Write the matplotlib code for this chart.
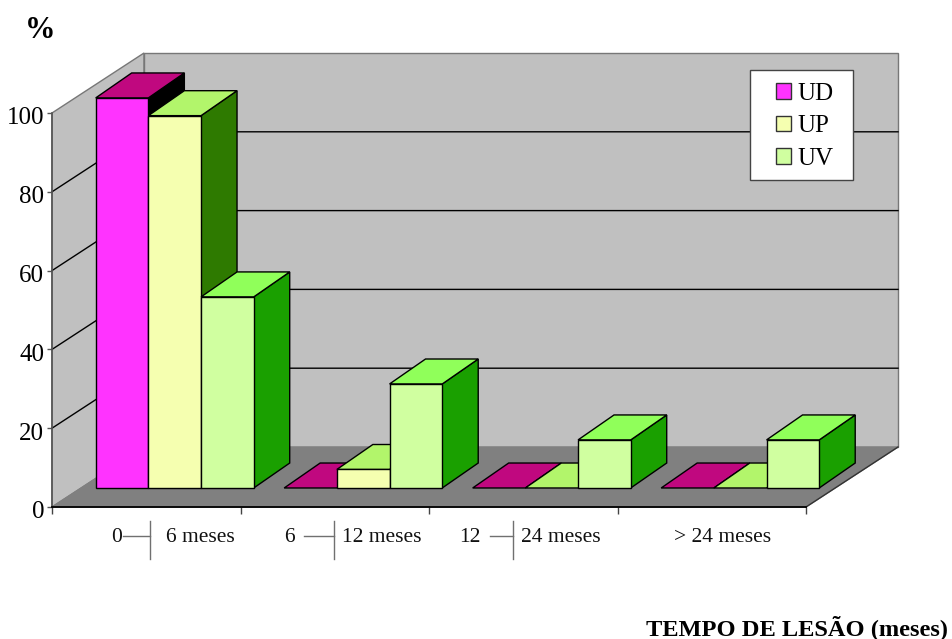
import matplotlib
matplotlib.use("Agg")
import matplotlib.pyplot as plt
from matplotlib.patches import Polygon, Patch, Rectangle
from matplotlib.lines import Line2D
from matplotlib.transforms import ScaledTranslation

plt.rcParams['font.family'] = ['Liberation Serif', 'DejaVu Serif']

# values
ud_values = [99, 0, 0, 0]
up_values = [94.5, 4.7, 0, 0]
uv_values = [48.5, 26.4, 12.2, 12.2]
series_names = ["UD", "UP", "UV"]
y_ticks = [0, 20, 40, 60, 80, 100]
range_start = ["0", "6", "12"]
range_end = ["6 meses", "12 meses", "24 meses", "> 24 meses"]

W, H = 953, 639

front_color = ["#ff33ff", "#f5ffb0", "#d0ffa0"]
top_color = ["#c0087f", "#b2f56b", "#90ff5a"]
side_color = ["#000000", "#2e7a00", "#1aa000"]

# front plane of the box, in pixels
left, right, bottom, top = 52, 806, 507, 113
depth_px = (92, 60)
bar_width = 0.2795
bar_depth = (0.317, 0.733)
px_x = 4 / (right - left)
bar_shift = -0.7 * px_x
back_shift = 2.3 * px_x  # bars recede a little steeper than the walls

fig = plt.figure(figsize=(W / 100, H / 100), dpi=100)
ax = fig.add_axes([left / W, 1 - bottom / H, (right - left) / W, (bottom - top) / H])
ax.set_xlim(0, 4)
ax.set_ylim(0, 100)
ax.patch.set_visible(False)


def project(x, y, d):
    # d = 0 is the front of the box, d = 1 the back wall
    return (x + d * depth_px[0] * px_x,
            y + d * depth_px[1] * 100 / (bottom - top))


def poly(points, face, edge, lw=1.0, z=1):
    ax.add_patch(Polygon([project(*p) for p in points], closed=True, facecolor=face,
                         edgecolor=edge, linewidth=lw, clip_on=False, zorder=z, joinstyle='miter'))


# walls and floor
poly([(0, 0, 0), (0, 0, 1), (0, 100, 1), (0, 100, 0)], "#c0c0c0", "#777777")
poly([(0, 0, 1), (4, 0, 1), (4, 100, 1), (0, 100, 1)], "#c0c0c0", "#777777")
poly([(0, 0, 0), (4, 0, 0), (4, 0, 1), (0, 0, 1)], "#808080", "#808080")

for v in y_ticks[1:-1]:
    xs, ys = zip(project(0, v, 0), project(0, v, 1), project(4, v, 1))
    ax.plot(xs, ys, color="black", lw=1.0, clip_on=False, zorder=2, solid_joinstyle='miter')
xs, ys = zip(project(4, 0, 0), project(4, 0, 1))
ax.plot(xs, ys, color="#333333", lw=1.0, clip_on=False, zorder=2)

# bars, painted left to right
d0, d1 = bar_depth
for c in range(4):
    for s, values in enumerate([ud_values, up_values, uv_values]):
        v = values[c]
        x0 = c + 0.5 - 1.5 * bar_width + s * bar_width + bar_shift
        x1 = x0 + bar_width
        bx0, bx1 = x0 - back_shift, x1 - back_shift
        z = 3 + c * 3 + s
        if v > 0:
            poly([(x1, 0, d0), (bx1, 0, d1), (bx1, v, d1), (x1, v, d0)], side_color[s], "black", z=z)
        poly([(x0, v, d0), (x1, v, d0), (bx1, v, d1), (bx0, v, d1)], top_color[s], "black", z=z)
        if v > 0:
            poly([(x0, 0, d0), (x1, 0, d0), (x1, v, d0), (x0, v, d0)], front_color[s], "black", z=z)

# axes
for name in ["top", "right"]:
    ax.spines[name].set_visible(False)
ax.spines["left"].set_color("#555555")
ax.spines["left"].set_linewidth(1.2)
ax.spines["bottom"].set_color("black")
ax.spines["bottom"].set_linewidth(1.3)
ax.set_yticks(y_ticks)
ax.set_xticks(range(5))
ax.set_xticklabels([])
ax.tick_params(axis="y", length=3.6, width=1.0, color="#555555", pad=2, labelsize=18)
ax.tick_params(axis="x", length=5, width=1.0, color="#444444")
for spine in ax.spines.values():
    spine.set_zorder(30)
# the numbers sit a bit below their ticks
for lab in ax.get_yticklabels():
    lab.set_transform(lab.get_transform() + ScaledTranslation(0, -3 / 100, fig.dpi_scale_trans))

# category labels, "start |-- end" built from text and two thin lines
label_size = 15.5
start_x = [117, 289, 470]
dash_x = [(123, 150), (304, 334), (490, 513)]
end_x = [200, 382, 561, 723]
label_y = 538
line_y = 536
for x, t in zip(start_x, range_start):
    fig.text(x / W, 1 - label_y / H, t, ha="center", va="center", fontsize=label_size, color="#111111")
for (x0, x1) in dash_x:
    fig.add_artist(Line2D([x0 / W, x1 / W], [1 - line_y / H] * 2, color="#707070", lw=1.0))
    fig.add_artist(Line2D([x1 / W] * 2, [1 - 521 / H, 1 - 559 / H], color="#707070", lw=1.0))
for x, t in zip(end_x, range_end):
    fig.text(x / W, 1 - label_y / H, t, ha="center", va="center", fontsize=label_size, color="#111111")

fig.text(40 / W, 1 - 30 / H, "%", ha="center", va="center", fontsize=22, fontweight="bold")
fig.text(948 / W, 1 - 628 / H, "TEMPO DE LESÃO (meses)", ha="right", va="center",
         fontsize=17.6, fontweight="bold")

# legend, box drawn apart because its side margins are wider than the top one
ax.add_patch(Rectangle((750 / W, 1 - 180 / H), 103 / W, 110 / H, transform=fig.transFigure,
                       facecolor="white", edgecolor="#444444", linewidth=1.0, clip_on=False, zorder=35))
handles = [Patch(facecolor=c, edgecolor="#333333", linewidth=1.0) for c in front_color]
leg = ax.legend(handles, series_names, loc="upper left", bbox_to_anchor=(762 / W, 1 - 69 / H),
                bbox_transform=fig.transFigure, fontsize=18, frameon=False,
                borderaxespad=0, borderpad=0.55,
                handlelength=0.6, handleheight=0.6, handletextpad=0.27, labelspacing=0.42)
leg.set_zorder(40)

fig.savefig("out.png", dpi=100)
